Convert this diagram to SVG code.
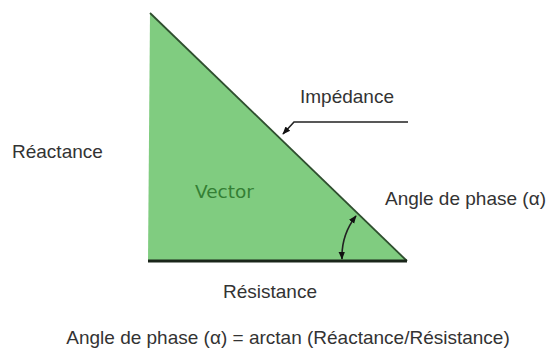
<svg xmlns="http://www.w3.org/2000/svg" width="555" height="358" viewBox="0 0 555 358">
<style>
.lbl{font-family:"Liberation Sans",Arial,sans-serif;font-size:19px;fill:#333333}
.con{fill:none;stroke:#222222;stroke-width:1.6}
</style>
<defs>
<marker id="ah" viewBox="0 0 10 10" refX="9" refY="5" markerWidth="8" markerHeight="8" markerUnits="userSpaceOnUse" orient="auto-start-reverse">
<path d="M0,1 L10,5 L0,9 Z" fill="#111111"/>
</marker>
</defs>
<rect width="555" height="358" fill="#ffffff"/>
<g id="triangle">
<polygon points="150,13 148,261 407,261" fill="#80cc80"/>
<line x1="150" y1="13" x2="407" y2="261" stroke="#2f4f2f" stroke-width="1.8"/>
<line x1="148" y1="261" x2="407" y2="261" stroke="#1a261a" stroke-width="3.2"/>
<text x="195" y="198" style="font-family:'DejaVu Sans',Verdana,sans-serif;font-size:18.5px;fill:#347f34">Vector</text>
</g>
<g id="connectors">
<path class="con" d="M408,122 H294 L283,134" marker-end="url(#ah)"/>
<path class="con" d="M356,216 A66,66 0 0 0 342,259" marker-start="url(#ah)" marker-end="url(#ah)"/>
</g>
<g id="impedance"><text class="lbl" x="300" y="103">Impédance</text></g>
<g id="reactance"><text class="lbl" x="12" y="158">Réactance</text></g>
<g id="angle"><text class="lbl" x="385" y="205">Angle de phase (α)</text></g>
<g id="resistance"><text class="lbl" x="223" y="298">Résistance</text></g>
<g id="formula"><text class="lbl" x="288" y="344" text-anchor="middle">Angle de phase (α) = arctan (Réactance/Résistance)</text></g>
</svg>
